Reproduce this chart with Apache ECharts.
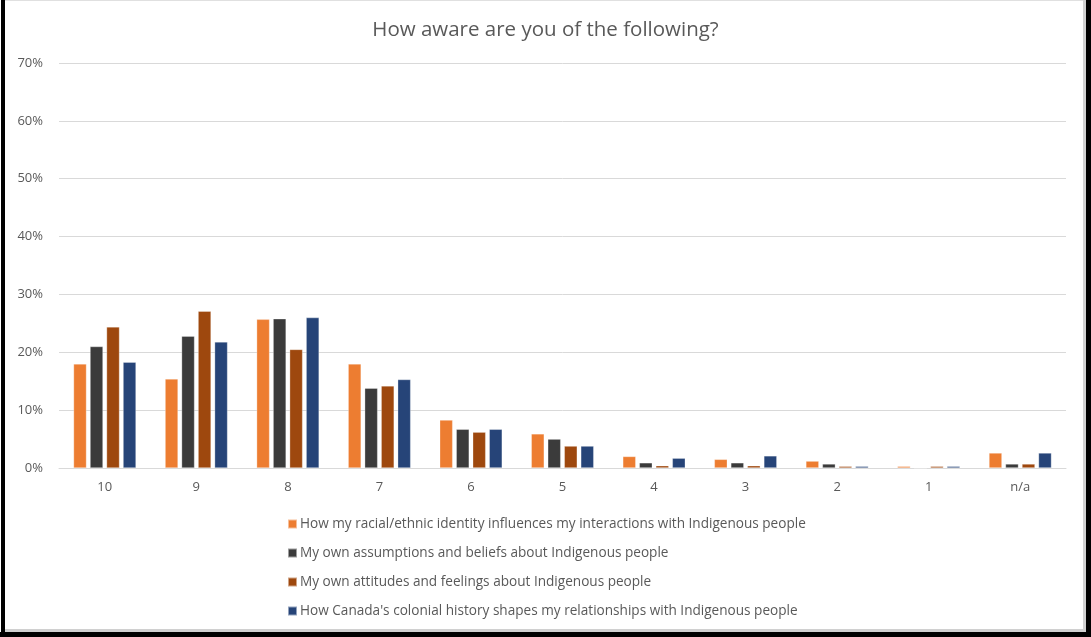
<!DOCTYPE html>
<html>
<head>
<meta charset="utf-8">
<script src="https://cdn.jsdelivr.net/npm/echarts@6/dist/echarts.min.js"></script>
<style>
  html, body { margin: 0; padding: 0; background: #ffffff; }
  #chart { width: 1091px; height: 637px; }
</style>
</head>
<body>
<div id="chart"></div>
<script>
// Awareness ratings (share of respondents, %) per rating level
const categories = ['10', '9', '8', '7', '6', '5', '4', '3', '2', '1', 'n/a'];

const seriesNames = [
  'How my racial/ethnic identity influences my interactions with Indigenous people',
  'My own assumptions and beliefs about Indigenous people',
  'My own attitudes and feelings about Indigenous people',
  "How Canada's colonial history shapes my relationships with Indigenous people"
];

const racialIdentity   = [18.0, 15.4, 25.7, 18.0, 8.3, 5.9, 2.0, 1.5, 1.2, 0.3, 2.6];
const assumptions      = [21.0, 22.8, 25.8, 13.8, 6.7, 5.0, 0.9, 0.9, 0.7, 0.0, 0.7];
const attitudes        = [24.4, 27.1, 20.5, 14.2, 6.2, 3.8, 0.4, 0.4, 0.3, 0.3, 0.7];
const colonialHistory  = [18.3, 21.8, 26.0, 15.3, 6.7, 3.8, 1.7, 2.1, 0.3, 0.3, 2.6];

const yTicks = [0, 10, 20, 30, 40, 50, 60, 70];

const colors = ['#ED7D31', '#3B3B3B', '#9E480E', '#264478'];
const seriesData = [racialIdentity, assumptions, attitudes, colonialHistory];

const chart = echarts.init(document.getElementById('chart'), null, { renderer: 'canvas' });

const textColor = '#595959';
const font = "'Open Sans', 'Noto Sans', sans-serif";

chart.setOption({
  backgroundColor: '#ffffff',
  animation: false,
  title: {
    text: 'How aware are you of the following?',
    left: 'center',
    top: 15,
    textStyle: { color: textColor, fontSize: 20.5, fontWeight: 'normal', fontFamily: font }
  },
  grid: { left: 59, right: 25, top: 63, bottom: 169, containLabel: false },
  xAxis: {
    type: 'category',
    data: categories,
    axisLine: { lineStyle: { color: '#D9D9D9', width: 1 } },
    axisTick: { show: false },
    axisLabel: { color: textColor, fontSize: 13, fontFamily: font, margin: 13 }
  },
  yAxis: {
    type: 'value',
    min: yTicks[0],
    max: yTicks[yTicks.length - 1],
    interval: 10,
    axisLine: { show: false },
    axisTick: { show: false },
    splitLine: { lineStyle: { color: '#D9D9D9', width: 1 } },
    axisLabel: { color: textColor, fontSize: 13, fontFamily: font, margin: 16, formatter: '{value}%' }
  },
  legend: {
    orient: 'vertical',
    left: 282,
    top: 511,
    icon: 'rect',
    itemWidth: 9,
    itemHeight: 9,
    itemGap: 13,
    textStyle: { color: textColor, fontSize: 13.6, fontFamily: font, lineHeight: 16, padding: [0, 0, 0, -2] },
    data: seriesNames
  },
  series: seriesNames.map((name, i) => ({
    name: name,
    type: 'bar',
    data: seriesData[i],
    barWidth: 13,
    barGap: '27%',
    itemStyle: { color: colors[i], borderColor: 'rgba(255,255,255,0.5)', borderWidth: 0.6 }
  })),
  graphic: [
    // outer frame of the chart panel
    { type: 'rect', shape: { x: 1, y: 0, width: 4, height: 637 }, style: { fill: '#000000' }, silent: true },
    { type: 'rect', shape: { x: 0, y: 632, width: 1091, height: 5 }, style: { fill: '#000000' }, silent: true },
    { type: 'rect', shape: { x: 1086, y: 0, width: 5, height: 637 }, style: { fill: '#000000' }, silent: true },
    { type: 'rect', shape: { x: 5, y: 629, width: 1081, height: 3 }, style: { fill: '#D0D0D0' }, silent: true },
    { type: 'rect', shape: { x: 1083, y: 0, width: 3, height: 632 }, style: { fill: '#D0D0D0' }, silent: true },
    { type: 'rect', shape: { x: 5, y: 0, width: 1078, height: 1 }, style: { fill: '#E0E0E0' }, silent: true }
  ]
});
</script>
</body>
</html>
